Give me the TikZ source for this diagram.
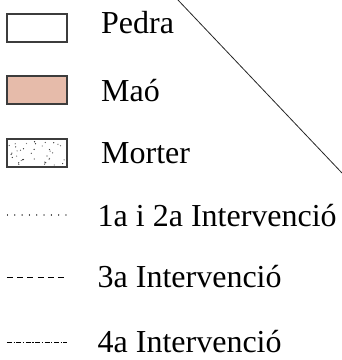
\documentclass[tikz,border=0pt]{standalone}
\usepackage{fontspec}
\setmainfont{Liberation Serif}
\definecolor{maocol}{RGB}{230,187,170}
\definecolor{edgecol}{RGB}{60,60,60}
\begin{document}
\begin{tikzpicture}[x=1pt,y=-1pt,
  swatch/.style={draw=edgecol,line width=1.1pt,minimum width=60pt,minimum height=28pt,inner sep=0pt,outer sep=0pt},
  lab/.style={anchor=base west,inner sep=0pt,font=\fontsize{32}{35}\selectfont},
  legline/.style={line width=0.9pt,black}]
\useasboundingbox (0,0) rectangle (342,360);
% swatches
\node[swatch] (pedra) at (37,28) {};
\node[swatch,fill=maocol] (mao) at (37,90) {};
\node[swatch] (morter) at (37,153) {};
\pgfmathsetseed{7}
\foreach \i in {1,...,38}{
  \pgfmathsetmacro{\dx}{9+rnd*56}
  \pgfmathsetmacro{\dy}{141+rnd*24}
  \pgfmathsetmacro{\gr}{50+rnd*45}
  \fill[black!\gr] (\dx,\dy) circle (0.65pt);
}
% labels
\node[lab] (tpedra) at (101,33) {Pedra};
\node[lab] (tmao) at (101,101) {Maó};
\node[lab] (tmorter) at (101,163) {Morter};
\node[lab] (t12) at (97.5,226) {1a i 2a Intervenció};
\node[lab] (t3) at (97.5,287) {3a Intervenció};
\node[lab] (t4) at (97.5,352) {4a Intervenció};
% legend lines
\coordinate (d1a) at (7.5,215); \coordinate (d1b) at (67,215);
\coordinate (d3a) at (7,277); \coordinate (d3b) at (67,277);
\coordinate (d4a) at (7,342); \coordinate (d4b) at (67,342);
\draw[line width=1.3pt,black!80,line cap=round,dash pattern=on 0.01pt off 7.3pt] (d1a) -- (d1b);
\draw[legline,dash pattern=on 6pt off 4.2pt] (d3a) -- (d3b);
\draw[legline,dash pattern=on 5pt off 1.6pt on 1.2pt off 1.6pt] (d4a) -- (d4b);
% diagonal
\coordinate (diagA) at (178,0);
\coordinate (diagB) at (342,173);
\draw[line width=0.8pt,black!85] (diagA) -- (diagB);
\end{tikzpicture}
\end{document}
